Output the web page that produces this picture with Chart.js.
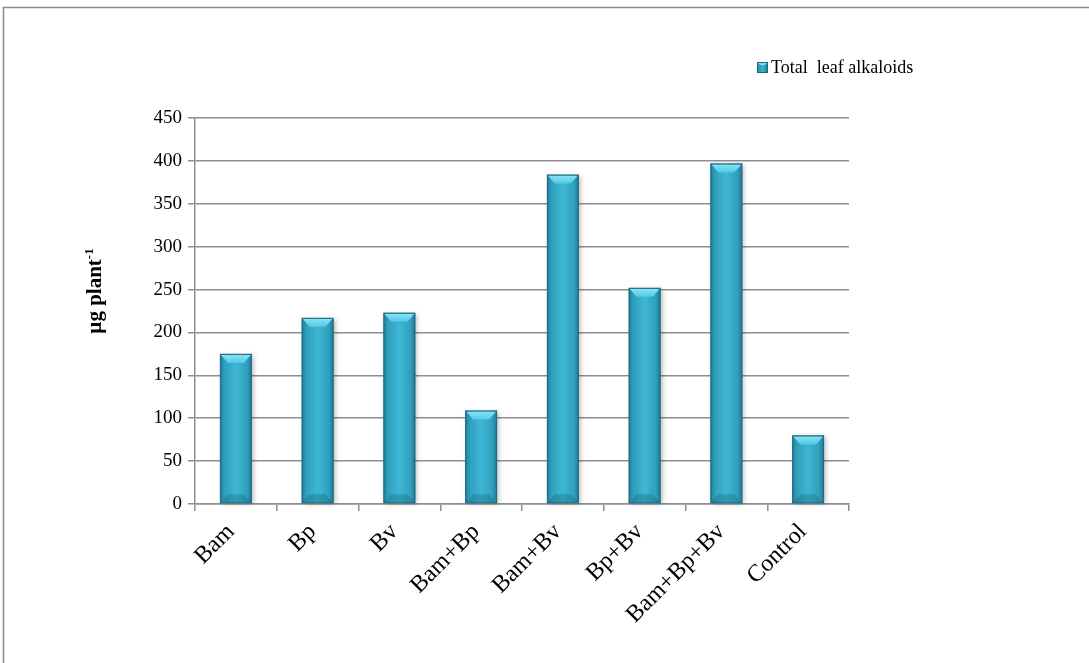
<!DOCTYPE html>
<html><head><meta charset="utf-8">
<script src="https://cdn.jsdelivr.net/npm/chart.js@4.4.1/dist/chart.umd.min.js"></script>
<style>html,body{margin:0;padding:0;background:#fff}#wrap{width:1089px;height:663px}</style>
</head><body><div id="wrap"><canvas id="c" width="1089" height="663"></canvas></div>
<script>
const categories = ['Bam','Bp','Bv','Bam+Bp','Bam+Bv','Bp+Bv','Bam+Bp+Bv','Control'];
const alkaloids = [175, 217, 223, 109, 384, 252, 397, 80];
const seriesLabel = 'Total  leaf alkaloids';
const yTicks = [0,50,100,150,200,250,300,350,400,450];
const FONT = '"Liberation Serif", "Times New Roman", serif';

const framePlugin = {
  id:'frame',
  beforeDraw(chart){
    const ctx = chart.ctx; ctx.save();
    ctx.fillStyle='#fff'; ctx.fillRect(0,0,chart.width,chart.height);
    ctx.strokeStyle='#8a8a8a'; ctx.lineWidth=1.5;
    ctx.beginPath(); ctx.moveTo(3.5,chart.height+2); ctx.lineTo(3.5,7.5); ctx.lineTo(chart.width+2,7.5); ctx.stroke();
    ctx.restore();
  }
};

function barGradient(ctx, x, w){
  const g = ctx.createLinearGradient(x-w/2,0,x+w/2,0);
  g.addColorStop(0,'#237f98');
  g.addColorStop(0.15,'#2fa0bd');
  g.addColorStop(0.5,'#3db7d5');
  g.addColorStop(0.85,'#2fa0bd');
  g.addColorStop(1,'#217891');
  return g;
}

const bevelPlugin = {
  id:'bevel',
  afterDatasetsDraw(chart){
    const ctx = chart.ctx; const meta = chart.getDatasetMeta(0);
    ctx.save();
    meta.data.forEach(el=>{
      const w = el.width, x = el.x, y = el.y, b = el.base;
      if(!isFinite(x)||!isFinite(y)) return;
      const l = x-w/2, r = x+w/2, d = 9, s = 8;
      ctx.save();
      ctx.shadowColor='rgba(0,0,0,0.28)'; ctx.shadowBlur=5; ctx.shadowOffsetX=2; ctx.shadowOffsetY=1;
      ctx.fillStyle = barGradient(ctx, x, w);
      ctx.fillRect(l, y, w, b-y);
      ctx.restore();
      const g = ctx.createLinearGradient(0,y,0,y+d);
      g.addColorStop(0,'#8fe6f8'); g.addColorStop(1,'#52c8e4');
      ctx.fillStyle = g;
      ctx.beginPath(); ctx.moveTo(l+1,y+1); ctx.lineTo(r-1,y+1); ctx.lineTo(r-s,y+d); ctx.lineTo(l+s,y+d); ctx.closePath(); ctx.fill();
      ctx.fillStyle='rgba(20,90,110,0.30)';
      ctx.beginPath(); ctx.moveTo(l+1,b-1); ctx.lineTo(r-1,b-1); ctx.lineTo(r-s,b-d); ctx.lineTo(l+s,b-d); ctx.closePath(); ctx.fill();
      ctx.strokeStyle='#1d6a80'; ctx.lineWidth=1;
      ctx.strokeRect(l+0.5,y+0.5,w-1,b-y-1);
    });
    ctx.restore();
  }
};

const extraPlugin = {
  id:'extras',
  afterDraw(chart){
    const ctx = chart.ctx; ctx.save();
    ctx.translate(101, 291);
    ctx.rotate(-Math.PI/2);
    ctx.fillStyle='#000';
    ctx.textBaseline='alphabetic';
    const main='µg plant', sup='-1';
    ctx.font = 'bold 21px '+FONT;
    const mw = ctx.measureText(main).width;
    ctx.font = 'bold 13px '+FONT;
    const sw = ctx.measureText(sup).width;
    const start = -(mw+sw)/2;
    ctx.font = 'bold 21px '+FONT;
    ctx.fillText(main, start, 0);
    ctx.font = 'bold 13px '+FONT;
    ctx.fillText(sup, start+mw, -8);
    ctx.restore();
    ctx.save();
    const ds = chart.data.datasets[0];
    const bx=757, by=62, bs=11;
    const g = ctx.createLinearGradient(bx,0,bx+bs,0);
    g.addColorStop(0,'#237f98'); g.addColorStop(0.5,'#3db7d5'); g.addColorStop(1,'#217891');
    ctx.fillStyle=g; ctx.fillRect(bx,by,bs,bs);
    ctx.fillStyle='#7fdcf2'; ctx.beginPath(); ctx.moveTo(bx,by); ctx.lineTo(bx+bs,by); ctx.lineTo(bx+bs-3,by+3); ctx.lineTo(bx+3,by+3); ctx.closePath(); ctx.fill();
    ctx.strokeStyle='#1d6a80'; ctx.lineWidth=1; ctx.strokeRect(bx+0.5,by+0.5,bs-1,bs-1);
    ctx.fillStyle='#000'; ctx.font='18px '+FONT; ctx.textBaseline='middle';
    ctx.fillText(ds.label, bx+bs+3, by+bs/2+1);
    ctx.restore();
  }
};

new Chart(document.getElementById('c'), {
  type:'bar',
  data:{
    labels: categories,
    datasets:[{
      label: seriesLabel,
      data: alkaloids,
      backgroundColor: 'rgba(0,0,0,0)',
      borderWidth:0,
      barPercentage:0.39,
      categoryPercentage:1.0
    }]
  },
  options:{
    responsive:false,
    animation:false,
    devicePixelRatio:1,
    layout:{padding:{left:0,right:240,top:118,bottom:0}},
    plugins:{legend:{display:false},tooltip:{enabled:false},title:{display:false}},
    scales:{
      x:{
        grid:{display:true,drawOnChartArea:false,drawTicks:true,tickLength:7,offset:true,color:'#8e8e8e',lineWidth:1.5},
        border:{display:true,color:'#8e8e8e',width:1.5},
        ticks:{color:'#000',font:{family:FONT,size:24},minRotation:45,maxRotation:45,padding:7,labelOffset:-5,autoSkip:false},
        afterFit(s){ s.height = 159; }
      },
      y:{
        min:0,max:450,
        afterBuildTicks(s){ s.ticks = yTicks.map(v=>({value:v})); },
        grid:{color:'#8e8e8e',lineWidth:1.5,tickLength:7,drawTicks:true},
        border:{display:true,color:'#8e8e8e',width:1.5},
        ticks:{color:'#000',font:{family:FONT,size:19},padding:6},
        afterFit(s){ s.width = 195; }
      }
    }
  },
  plugins:[framePlugin,bevelPlugin,extraPlugin]
});
</script></body></html>
